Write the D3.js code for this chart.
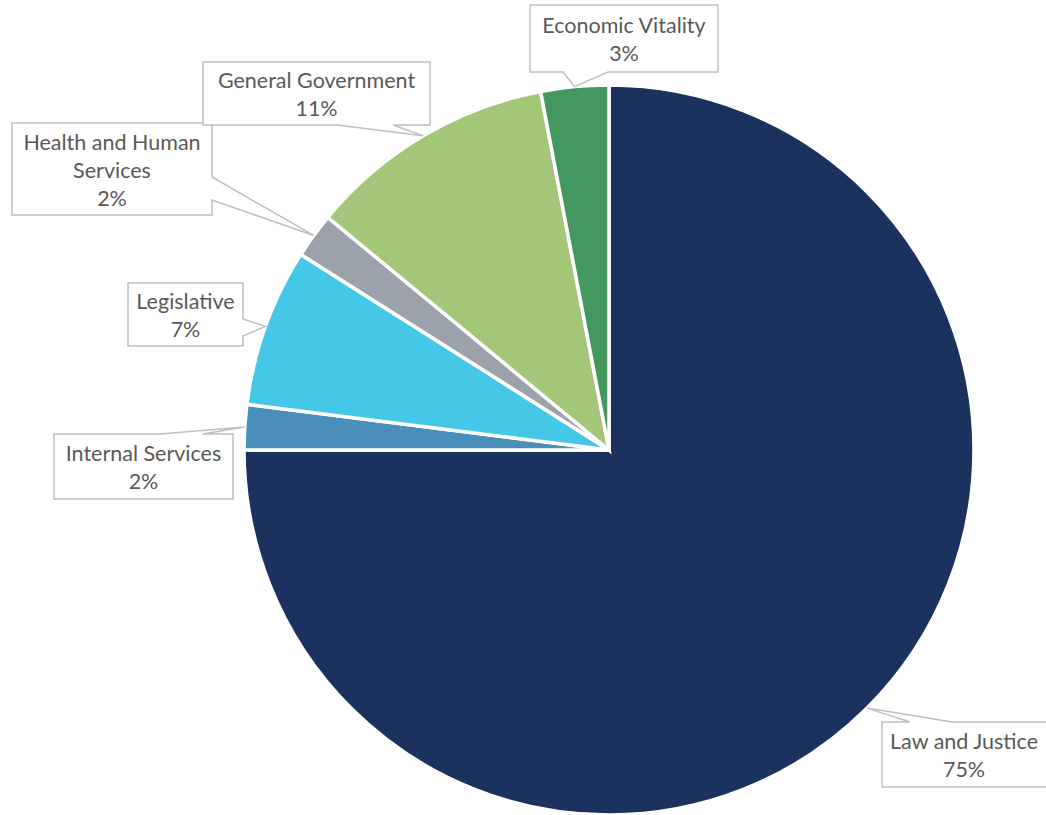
<!DOCTYPE html>
<html>
<head>
<meta charset="utf-8">
<script src="https://cdn.jsdelivr.net/npm/d3@7"></script>
<style>
  html, body { margin: 0; padding: 0; background: #ffffff; }
  svg { display: block; }
  .callout-text { font-family: Lato, "Open Sans", sans-serif; font-size: 21.5px; fill: #595959; }
</style>
</head>
<body>
<svg id="chart" width="1046" height="815"></svg>
<script>
// Budget share by program area (percent)
const categories = ["Law and Justice", "Internal Services", "Legislative",
                    "Health and Human Services", "General Government", "Economic Vitality"];
const shares = [75, 2, 7, 2, 11, 3];
const labelLines = [
  ["Law and Justice"],
  ["Internal Services"],
  ["Legislative"],
  ["Health and Human", "Services"],
  ["General Government"],
  ["Economic Vitality"]
];
const colors = ["#1b325f", "#4a8fba", "#45c8e7", "#9ba2ac", "#a4c679", "#43975f"];

// Callout box placement: box rectangle, side carrying the pointer, pointer base span
const callouts = [
  { x: 882, y: 722, w: 180, h: 65, side: "top",    a: 910, b: 952 },
  { x: 54,  y: 434, w: 179, h: 65, side: "top",    a: 160, b: 203 },
  { x: 128, y: 283, w: 115, h: 63, side: "right",  a: 319, b: 336 },
  { x: 12,  y: 123, w: 200, h: 92, side: "right",  a: 177, b: 200 },
  { x: 203, y: 62,  w: 227, h: 63, side: "bottom", a: 337, b: 393 },
  { x: 530, y: 5,   w: 188, h: 67, side: "bottom", a: 563, b: 608 }
];

const svg = d3.select("#chart");
const cx = 609, cy = 450, radius = 365;

const pie = d3.pie().sort(null).value(d => d)(shares);
const arc = d3.arc().innerRadius(0).outerRadius(radius);
const edge = d3.arc().innerRadius(radius).outerRadius(radius);

const g = svg.append("g").attr("transform", `translate(${cx},${cy})`);
g.selectAll("path.slice")
  .data(pie)
  .join("path")
  .attr("class", "slice")
  .attr("d", arc)
  .attr("fill", (d, i) => colors[i])
  .attr("stroke", "#ffffff")
  .attr("stroke-width", 3.5)
  .attr("stroke-linejoin", "miter");

// Callout outline: rectangle with a wedge reaching to the slice rim
function calloutPath(c, tip) {
  const x0 = c.x, y0 = c.y, x1 = c.x + c.w, y1 = c.y + c.h;
  const p = d3.path();
  p.moveTo(x0, y0);
  if (c.side === "top") { p.lineTo(c.a, y0); p.lineTo(tip[0], tip[1]); p.lineTo(c.b, y0); }
  p.lineTo(x1, y0);
  if (c.side === "right") { p.lineTo(x1, c.a); p.lineTo(tip[0], tip[1]); p.lineTo(x1, c.b); }
  p.lineTo(x1, y1);
  if (c.side === "bottom") { p.lineTo(c.b, y1); p.lineTo(tip[0], tip[1]); p.lineTo(c.a, y1); }
  p.lineTo(x0, y1);
  p.closePath();
  return p.toString();
}

const labels = svg.append("g");
pie.forEach((d, i) => {
  const c = callouts[i];
  const m = edge.centroid(d);
  const tip = [cx + m[0], cy + m[1]];
  labels.append("path")
    .attr("d", calloutPath(c, tip))
    .attr("fill", "#ffffff")
    .attr("stroke", "#bfbfbf")
    .attr("stroke-width", 1.5);
  const lines = labelLines[i].concat([d3.format(".0f")(shares[i]) + "%"]);
  const lineH = 28;
  const blockTop = c.y + c.h / 2 - (lines.length * lineH) / 2;
  const t = labels.append("text")
    .attr("class", "callout-text")
    .attr("text-anchor", "middle");
  lines.forEach((ln, k) => {
    t.append("tspan")
      .attr("x", c.x + c.w / 2 + (i === 0 ? -8 : 0))
      .attr("y", blockTop + k * lineH + 22.5)
      .text(ln);
  });
});
</script>
</body>
</html>
